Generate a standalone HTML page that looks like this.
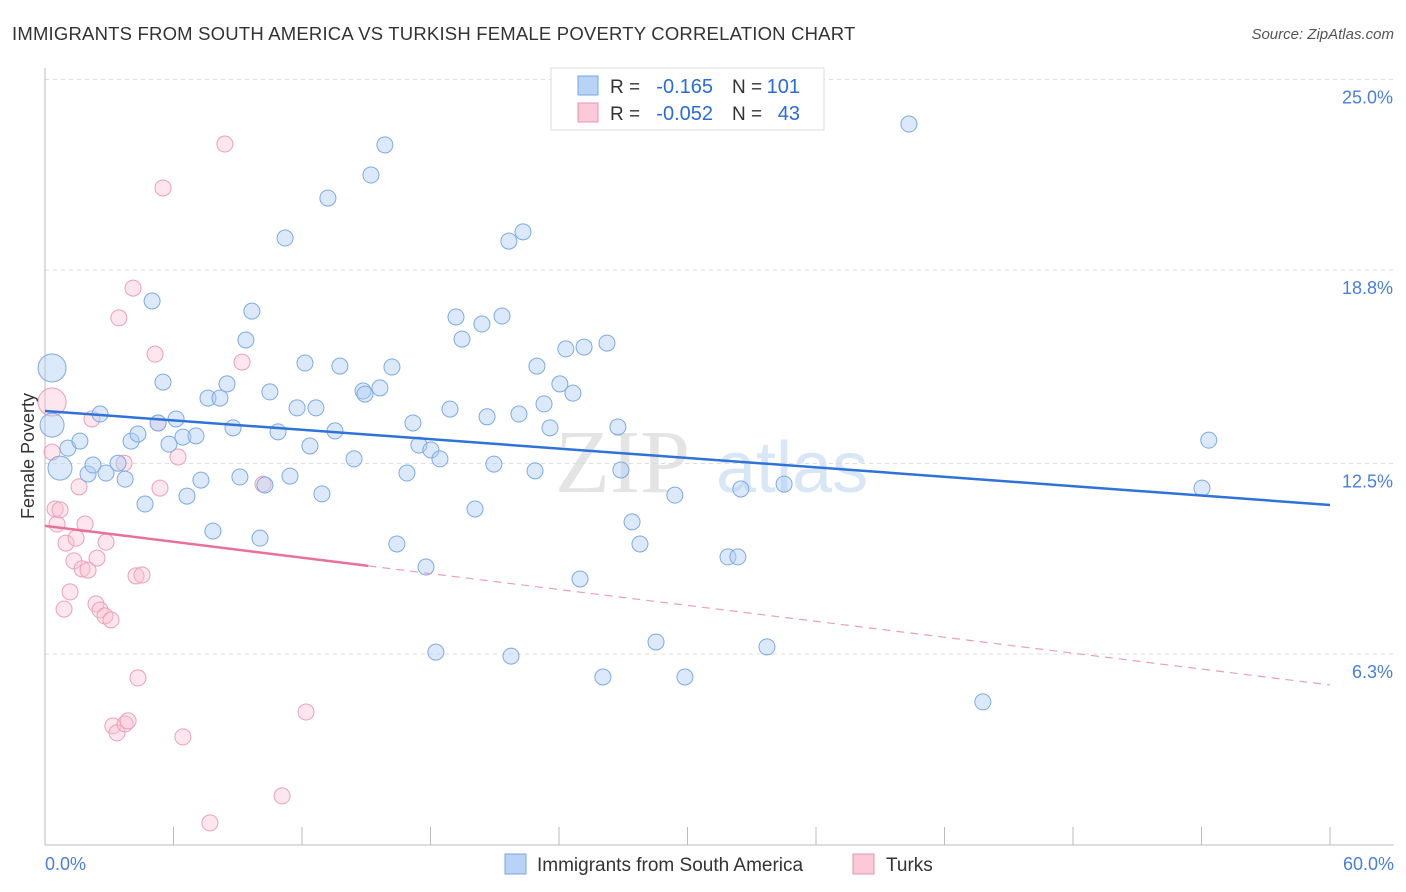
<!DOCTYPE html>
<html><head><meta charset="utf-8"><style>
body{margin:0;background:#fff;font-family:"Liberation Sans",sans-serif;}
svg{display:block}
</style></head><body>
<svg id="chart" width="1406" height="892" xmlns="http://www.w3.org/2000/svg">
<text x="12" y="40" font-size="18.5" fill="#333" letter-spacing="0.2">IMMIGRANTS FROM SOUTH AMERICA VS TURKISH FEMALE POVERTY CORRELATION CHART</text>
<text x="1394" y="39" font-size="15" fill="#555" font-style="italic" text-anchor="end">Source: ZipAtlas.com</text>
<text x="555" y="492" font-size="90" fill="#e4e4e4" font-family="Liberation Serif">ZIP</text>
<text x="716" y="492" font-size="72" fill="#d8e6f6">atlas</text>
<g id="grid"></g><g id="axes"></g><g id="pts"></g><g id="reg"></g>
<text x="34" y="456" font-size="18" fill="#333" text-anchor="middle" transform="rotate(-90 34 456)">Female Poverty</text>
<text x="45" y="870" font-size="18" fill="#4a7fd4">0.0%</text>
<text x="1394" y="870" font-size="18" fill="#4a7fd4" text-anchor="end">60.0%</text>
<g>
<rect x="551" y="68" width="273" height="62" fill="#fff" stroke="#ddd"/>
<rect x="578" y="76" width="20" height="19" fill="#b8d3f5" stroke="#7aa7e0"/>
<rect x="578" y="103" width="20" height="19" fill="#fbc9d8" stroke="#e895b0"/>
<text x="610" y="93" font-size="19" fill="#333">R =</text>
<text x="713" y="93" font-size="20" fill="#2b6bd4" text-anchor="end">-0.165</text>
<text x="732" y="93" font-size="19" fill="#333">N =</text>
<text x="800" y="93" font-size="20" fill="#2b6bd4" text-anchor="end">101</text>
<text x="610" y="120" font-size="19" fill="#333">R =</text>
<text x="713" y="120" font-size="20" fill="#2b6bd4" text-anchor="end">-0.052</text>
<text x="732" y="120" font-size="19" fill="#333">N =</text>
<text x="800" y="120" font-size="20" fill="#2b6bd4" text-anchor="end">43</text>
</g>
<g>
<rect x="505" y="854" width="21" height="20" fill="#b8d3f5" stroke="#7aa7e0"/>
<text x="537" y="871" font-size="19" fill="#333">Immigrants from South America</text>
<rect x="853" y="854" width="21" height="20" fill="#fbc9d8" stroke="#e895b0"/>
<text x="886" y="871" font-size="19" fill="#333">Turks</text>
</g>
</svg>
<script>
const yTicks=[25.0,18.8,12.5,6.3];
const yTickLabels=["25.0%","18.8%","12.5%","6.3%"];
const xTicks=[0,6,12,18,24,30,36,42,48,54,60];
const blueX=[0.33,0.33,0.70,1.07,1.63,2.01,2.24,2.57,2.85,3.41,3.74,4.02,4.34,4.67,5.00,5.28,5.51,5.79,6.12,6.44,6.63,7.05,7.28,7.61,7.84,8.17,8.50,8.78,9.10,9.38,9.66,10.04,10.27,10.50,10.88,11.21,11.44,11.77,12.14,12.37,12.65,12.93,13.21,13.54,13.77,14.43,14.85,14.94,15.22,15.64,15.87,16.20,16.43,16.90,17.18,17.46,17.79,18.02,18.25,18.44,18.91,19.19,19.47,20.08,20.40,20.64,20.96,21.34,21.66,21.76,22.13,22.32,22.88,22.97,23.30,23.58,24.04,24.32,24.65,24.98,25.17,26.05,26.24,26.75,26.89,27.41,27.78,28.53,29.41,29.88,31.89,32.35,32.49,33.71,34.51,40.34,43.79,54.34,54.02];
const blueY=[15.61,13.75,12.35,13.00,13.23,12.16,12.45,14.11,12.19,12.51,11.99,13.23,13.46,11.18,17.79,13.82,15.15,13.13,13.95,13.36,11.44,13.40,11.96,14.63,10.30,14.63,15.09,13.66,12.06,16.52,17.46,10.07,11.80,14.83,13.53,19.84,12.09,14.31,15.77,13.07,14.31,11.51,21.14,13.56,15.67,12.65,14.86,14.76,21.89,14.96,22.87,15.64,9.88,12.19,13.82,13.10,9.13,12.94,6.36,12.65,14.27,17.27,16.55,11.02,17.04,14.02,12.48,17.30,19.74,6.23,14.11,20.04,12.26,15.67,14.44,13.66,15.09,16.23,14.79,8.74,16.29,5.55,16.42,13.69,12.29,10.60,9.88,6.69,11.47,5.55,9.46,9.46,11.67,6.53,11.83,23.55,4.74,13.26,11.70];
const blueSize=[14,12,12];
const pinkX=[0.33,0.33,0.47,0.56,0.70,0.89,0.98,1.17,1.35,1.45,1.59,1.73,1.87,2.01,2.19,2.38,2.43,2.57,2.85,2.80,3.08,3.17,3.36,3.45,3.69,3.74,3.88,4.11,4.25,4.34,4.53,5.14,5.28,5.37,5.51,6.21,6.44,7.70,8.40,9.20,10.18,11.07,12.19];
const pinkY=[14.50,12.87,11.02,10.53,10.99,7.76,9.91,8.32,9.33,10.07,11.74,9.07,10.53,9.03,13.95,7.93,9.42,7.73,9.94,7.54,7.41,3.96,3.73,17.24,12.51,4.02,4.12,18.21,8.84,5.52,8.87,16.06,13.82,11.70,21.47,12.71,3.60,0.80,22.90,15.80,11.83,1.68,4.41];
const pinkSize=[14];
const blueReg=[14.21,11.15];
const pinkReg=[10.47,5.29];
const pinkSolidEnd=15.1;

const X0=45,X1=1330,Y0=847.5;
const xs=v=>X0+v/60*(X1-X0);
const ys=v=>Y0-v*30.72;
const NS="http://www.w3.org/2000/svg";
function mk(tag,attrs,parent){const e=document.createElementNS(NS,tag);for(const k in attrs)e.setAttribute(k,attrs[k]);document.getElementById(parent).appendChild(e);return e;}
yTicks.forEach((t,i)=>{
  const g=mk('line',{x1:X0,x2:1394,y1:ys(t),y2:ys(t),stroke:'#ddd','stroke-dasharray':'4,4'},'grid');
  
  
  const l=mk('text',{x:1393,y:ys(t)+24,'font-size':18,fill:'#4a7fd4','text-anchor':'end'},'grid');
  l.textContent=yTickLabels[i];
  
  
});
const ax=mk('line',{x1:X0,x2:1394,y1:845,y2:845,stroke:'#bbb'},'axes');


const ay=mk('line',{x1:X0,x2:X0,y1:68,y2:845,stroke:'#bbb'},'axes');


xTicks.forEach(t=>{
  const k=mk('line',{x1:xs(t),x2:xs(t),y1:827,y2:845,stroke:'#bbb'},'axes');
  
  
});
pinkX.forEach((x,i)=>{
  const c=mk('circle',{cx:xs(x),cy:ys(pinkY[i]),r:pinkSize[i]||8,fill:'rgba(250,192,210,0.4)',stroke:'#eba0b9','stroke-width':1},'pts');
  
  
});
blueX.forEach((x,i)=>{
  const c=mk('circle',{cx:xs(x),cy:ys(blueY[i]),r:blueSize[i]||8,fill:'rgba(176,206,243,0.45)',stroke:'#7eaae2','stroke-width':1},'pts');
  
  
});
const bl=mk('line',{x1:xs(0),y1:ys(blueReg[0]),x2:xs(60),y2:ys(blueReg[1]),stroke:'#2f72d8','stroke-width':2.5},'reg');


const py=x=>pinkReg[0]+(pinkReg[1]-pinkReg[0])*x/60;
const ps=mk('line',{x1:xs(0),y1:ys(py(0)),x2:xs(pinkSolidEnd),y2:ys(py(pinkSolidEnd)),stroke:'#e8709a','stroke-width':2.5},'reg');


const pd=mk('line',{x1:xs(pinkSolidEnd),y1:ys(py(pinkSolidEnd)),x2:xs(60),y2:ys(py(60)),stroke:'#e8a0b8','stroke-width':1.2,'stroke-dasharray':'8,6'},'reg');


</script>
</body></html>
